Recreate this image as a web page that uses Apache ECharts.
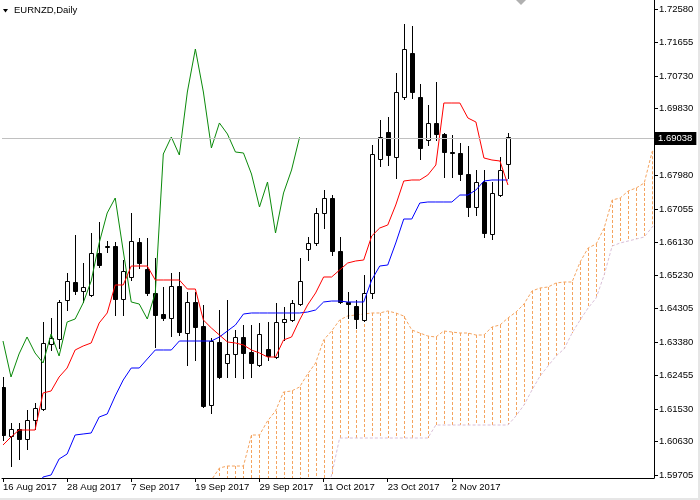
<!DOCTYPE html>
<html><head><meta charset="utf-8">
<script src="https://cdn.jsdelivr.net/npm/echarts@6/dist/echarts.min.js"></script>
<style>html,body{margin:0;padding:0;background:#fff}#c{width:700px;height:500px}</style>
</head><body><div id="c"></div>
<script>
// ---- data ----
const dates = [
'16 Aug 2017','17 Aug 2017','18 Aug 2017','21 Aug 2017','22 Aug 2017','23 Aug 2017','24 Aug 2017','25 Aug 2017',
'28 Aug 2017','29 Aug 2017','30 Aug 2017','31 Aug 2017','1 Sep 2017','4 Sep 2017','5 Sep 2017','6 Sep 2017',
'7 Sep 2017','8 Sep 2017','11 Sep 2017','12 Sep 2017','13 Sep 2017','14 Sep 2017','15 Sep 2017','18 Sep 2017',
'19 Sep 2017','20 Sep 2017','21 Sep 2017','22 Sep 2017','25 Sep 2017','26 Sep 2017','27 Sep 2017','28 Sep 2017',
'29 Sep 2017','2 Oct 2017','3 Oct 2017','4 Oct 2017','5 Oct 2017','6 Oct 2017','9 Oct 2017','10 Oct 2017',
'11 Oct 2017','12 Oct 2017','13 Oct 2017','16 Oct 2017','17 Oct 2017','18 Oct 2017','19 Oct 2017','20 Oct 2017',
'23 Oct 2017','24 Oct 2017','25 Oct 2017','26 Oct 2017','27 Oct 2017','30 Oct 2017','31 Oct 2017','1 Nov 2017',
'2 Nov 2017','3 Nov 2017','6 Nov 2017','7 Nov 2017','8 Nov 2017','9 Nov 2017','10 Nov 2017','13 Nov 2017'];

const opens = [
1.62136,1.60782,1.60976,1.60699,1.61224,1.61528,1.63324,1.63462,1.64540,1.65037,
1.64789,1.64678,1.65839,1.66004,1.66032,1.64568,1.65176,1.66143,1.65397,1.64734,
1.64153,1.64043,1.64927,1.63628,1.64485,1.63822,1.61639,1.63380,1.62799,1.63048,
1.63518,1.63103,1.62744,1.63186,1.62965,1.63932,1.63987,1.64429,1.65949,1.66115,
1.66944,1.67358,1.65894,1.64485,1.64374,1.63987,1.64734,1.68436,1.69182,1.68491,
1.70149,1.71365,1.70149,1.68961,1.69431,1.69127,1.68629,1.68602,1.68021,1.67110,
1.67800,1.66364,1.67441,1.68298];
const highs = [
1.62413,1.61142,1.61142,1.61501,1.61694,1.63932,1.64043,1.64540,1.65286,1.66336,
1.65562,1.66391,1.66695,1.66170,1.66143,1.65645,1.66944,1.66253,1.66253,1.65701,
1.64899,1.65286,1.65314,1.64761,1.64761,1.64402,1.63490,1.64264,1.64540,1.63711,
1.63849,1.63849,1.63905,1.63932,1.64457,1.64347,1.64540,1.65701,1.66281,1.67082,
1.67579,1.67441,1.66281,1.64761,1.64540,1.65231,1.68823,1.69513,1.69596,1.70812,
1.72166,1.72111,1.70508,1.69928,1.70563,1.69155,1.69099,1.68878,1.68795,1.68132,
1.68132,1.67800,1.68491,1.69155];
const lows = [
1.60672,1.59953,1.60147,1.60423,1.60976,1.61501,1.63159,1.63214,1.64263,1.64706,
1.64485,1.64651,1.65452,1.65866,1.64125,1.64125,1.65093,1.65424,1.64678,1.63241,
1.63987,1.63545,1.63573,1.62744,1.62882,1.61584,1.61418,1.62385,1.62413,1.62413,
1.62385,1.62413,1.62716,1.62882,1.62938,1.63435,1.63960,1.64402,1.65645,1.66060,
1.66529,1.65783,1.64457,1.64043,1.63766,1.63960,1.64595,1.68242,1.68270,1.67911,
1.70094,1.70121,1.68436,1.68823,1.68961,1.67939,1.67939,1.67856,1.66861,1.66889,
1.66281,1.66225,1.67414,1.67911];
const closes = [
1.60810,1.60976,1.60699,1.61224,1.61556,1.63352,1.63490,1.64485,1.65065,1.64789,
1.64899,1.65839,1.65507,1.66032,1.64568,1.65341,1.66170,1.65562,1.64734,1.64126,
1.64043,1.64927,1.63656,1.64485,1.63794,1.61611,1.63407,1.62413,1.63048,1.63518,
1.63076,1.62799,1.63601,1.62993,1.63932,1.64015,1.64457,1.65065,1.66115,1.66944,
1.67358,1.65894,1.64485,1.64429,1.64015,1.64734,1.68574,1.69044,1.68546,1.70287,
1.71475,1.70287,1.68740,1.69431,1.69127,1.68629,1.68602,1.68021,1.67110,1.67800,
1.66391,1.67497,1.68132,1.69038];

const tenkan = [
1.60534,1.60755,1.60948,1.60948,1.60948,1.61971,1.62026,1.62413,1.62661,1.63159,
1.63269,1.63352,1.63905,1.64181,1.64955,1.64955,1.65479,1.65479,1.65479,1.65093,
1.65093,1.65093,1.65093,1.64844,1.64844,1.63987,1.63766,1.63573,1.63380,1.63352,
1.63297,1.63159,1.63076,1.62965,1.62965,1.63435,1.63518,1.63987,1.64402,1.64734,
1.65176,1.65176,1.65369,1.65562,1.65618,1.65645,1.66308,1.66529,1.66612,1.67165,
1.67828,1.67856,1.67856,1.67994,1.68270,1.69983,1.69983,1.69983,1.69569,1.69458,
1.68464,1.68408,1.68381,1.67718];
const kijun = [
null,null,null,null,1.59250,1.59650,1.59705,1.60147,1.60285,1.60810,
1.60838,1.60865,1.61307,1.61390,1.61888,1.62330,1.62661,1.62661,1.62910,1.63159,
1.63159,1.63159,1.63407,1.63407,1.63407,1.63407,1.63407,1.63518,1.63684,1.63849,
1.64153,1.64181,1.64181,1.64181,1.64181,1.64181,1.64181,1.64181,1.64208,1.64264,
1.64485,1.64512,1.64512,1.64485,1.64485,1.64485,1.65093,1.65479,1.65507,1.66115,
1.66778,1.66778,1.67220,1.67248,1.67248,1.67248,1.67248,1.67441,1.67441,1.67579,
1.67828,1.67856,1.67856,1.67856];

const chikouShift = 26;
const cloudStart = 25; // bar index of first cloud value below
const spanA = [
1.59290,1.59567,1.59898,1.59953,1.59953,1.59953,1.60810,1.60810,1.61197,1.61473,
1.61998,1.62026,1.62136,1.62495,1.62799,1.63435,1.63684,1.63987,1.64098,1.64126,
1.64153,1.64181,1.64181,1.64236,1.64181,1.64098,1.63711,1.63628,1.63545,1.63518,
1.63684,1.63656,1.63628,1.63628,1.63573,1.63573,1.63794,1.63849,1.64043,1.64208,
1.64429,1.64789,1.64872,1.64899,1.65010,1.65037,1.65037,1.65590,1.65977,1.66087,
1.66529,1.67303,1.67358,1.67552,1.67635,1.67773,1.68650,1.68616];
const spanB = [
1.59000,1.59000,1.59000,1.59000,1.59000,1.59000,1.59000,1.59000,1.59000,1.59000,
1.59000,1.59000,1.59000,1.59000,1.59000,1.59000,1.59705,1.60727,1.60727,1.60727,
1.60727,1.60727,1.60727,1.60727,1.60727,1.60727,1.60727,1.60727,1.60727,1.61086,
1.61086,1.61086,1.61086,1.61086,1.61086,1.61086,1.61086,1.61086,1.61086,1.61335,
1.61639,1.62053,1.62440,1.62716,1.62993,1.63186,1.63628,1.63987,1.64319,1.64595,
1.65231,1.66032,1.66115,1.66170,1.66225,1.66281,1.66557,1.66750];

const priceTicks = [1.72580,1.71655,1.70730,1.69830,1.68905,1.67980,1.67055,1.66130,1.65230,1.64305,1.63380,1.62455,1.61530,1.60630,1.59705];
const dateTickIdx = [0,8,16,24,32,40,48,56];
const symbolTitle = 'EURNZD,Daily';

// ---- chart ----
const FONT = 'Liberation Sans';
const chart = echarts.init(document.getElementById('c'), null, {renderer:'canvas'});

const candleData = dates.map((d,i)=>[i, opens[i], closes[i], lows[i], highs[i]]);
const tenkanData = tenkan.map((v,i)=>[i,v]);
const kijunData = kijun.map((v,i)=>[i,v]);
const chikouData = closes.slice(chikouShift).map((v,i)=>[i,v]);
const spanAData = spanA.map((v,k)=>[k+cloudStart,v]);
const spanBData = spanB.map((v,k)=>[k+cloudStart,v]);
const hatchData = spanA.map((v,k)=>[k+cloudStart,v,spanB[k]]);
const lastClose = closes[closes.length-1];

function renderCandle(params, api){
  const i = api.value(0), o = api.value(1), c = api.value(2), l = api.value(3), h = api.value(4);
  const pO = api.coord([i,o]), pC = api.coord([i,c]), pL = api.coord([i,l]), pH = api.coord([i,h]);
  const x = Math.round(pO[0]) + 0.5;
  const top = Math.round(Math.min(pO[1],pC[1])) + 0.5;
  const bot = Math.round(Math.max(pO[1],pC[1])) + 0.5;
  const bull = c >= o;
  return {type:'group', children:[
    {type:'line', shape:{x1:x,y1:Math.round(pH[1]),x2:x,y2:Math.round(pL[1])+1}, style:{stroke:'#000',lineWidth:1}},
    {type:'rect', shape:{x:x-2,y:top,width:4,height:Math.max(1,bot-top)}, style:{fill:bull?'#fff':'#000',stroke:'#000',lineWidth:1}}
  ]};
}
function renderHatch(params, api){
  const i = api.value(0), a = api.value(1), b = api.value(2);
  const pA = api.coord([i,a]), pB = api.coord([i,b]);
  const x = Math.round(pA[0]) + 0.5;
  return {type:'line', shape:{x1:x,y1:pA[1],x2:x,y2:pB[1]}, style:{stroke:'#F4A460',lineWidth:1,lineDash:[3,2]}};
}

const lineBase = {type:'line', showSymbol:false, symbol:'none', animation:false, silent:true};

const option = {
  animation:false,
  backgroundColor:'#ffffff',
  grid:{left:0,right:46,top:0,bottom:22,containLabel:false},
  xAxis:{
    type:'value', min:-0.1244, max:81.219,
    splitLine:{show:false},
    axisLine:{show:true,onZero:false,lineStyle:{color:'#000',width:1}},
    axisTick:{show:true,customValues:dateTickIdx,length:4,lineStyle:{color:'#000'}},
    axisLabel:{customValues:dateTickIdx, formatter:v=>dates[Math.round(v)], align:'left', margin:4,
      color:'#000', fontFamily:FONT, fontSize:9.5}
  },
  yAxis:{
    type:'value', position:'right', min:1.59622, max:1.72829,
    splitLine:{show:false},
    axisLine:{show:true,onZero:false,lineStyle:{color:'#000',width:1}},
    axisTick:{show:true,customValues:priceTicks,length:4,lineStyle:{color:'#000'}},
    axisLabel:{customValues:priceTicks, formatter:v=>v.toFixed(5), margin:5,
      color:'#000', fontFamily:FONT, fontSize:9.5}
  },
  series:[
    {type:'custom', name:'cloud', renderItem:renderHatch, data:hatchData, clip:true, silent:true, z:1,
      encode:{x:0,y:[1,2]}},
    Object.assign({}, lineBase, {name:'Senkou A', data:spanAData, z:2,
      lineStyle:{color:'#F4A460',width:1,type:[3,2]}}),
    Object.assign({}, lineBase, {name:'Senkou B', data:spanBData, z:2,
      lineStyle:{color:'#D8BFD8',width:1,type:[3,2]}}),
    {type:'custom', name:'price', renderItem:renderCandle, data:candleData, clip:true, silent:true, z:3,
      encode:{x:0,y:[1,2,3,4]}},
    Object.assign({}, lineBase, {name:'Chikou', data:chikouData, z:4,
      lineStyle:{color:'#0A8A0A',width:1}}),
    Object.assign({}, lineBase, {name:'Kijun', data:kijunData, z:4,
      lineStyle:{color:'#0000FF',width:1}}),
    Object.assign({}, lineBase, {name:'Tenkan', data:tenkanData, z:4,
      lineStyle:{color:'#FF0000',width:1},
      markLine:{silent:true, symbol:'none', animation:false,
        lineStyle:{color:'#C0C0C0',type:'solid',width:1},
        label:{show:true, position:'end', distance:1, formatter:()=>lastClose.toFixed(5),
          backgroundColor:'#000', color:'#fff', padding:[2,4,1,3], fontFamily:FONT, fontSize:9.5},
        data:[{yAxis:lastClose}]}})
  ],
  graphic:[
    {type:'polygon', shape:{points:[[3,9],[8,9],[5.5,12.5]]}, style:{fill:'#000'}},
    {type:'text', left:14, top:5, style:{text:symbolTitle, fill:'#000', font:'9.5px "Liberation Sans"'}},
    {type:'polygon', shape:{points:[[516,0],[526,0],[521,5]]}, style:{fill:'#B0B0B0'}},
    {type:'rect', shape:{x:0,y:498,width:700,height:2}, style:{fill:'#E6E6E6'}},
    {type:'rect', shape:{x:698,y:0,width:2,height:500}, style:{fill:'#E6E6E6'}}
  ]
};
chart.setOption(option);
</script>
</body></html>
